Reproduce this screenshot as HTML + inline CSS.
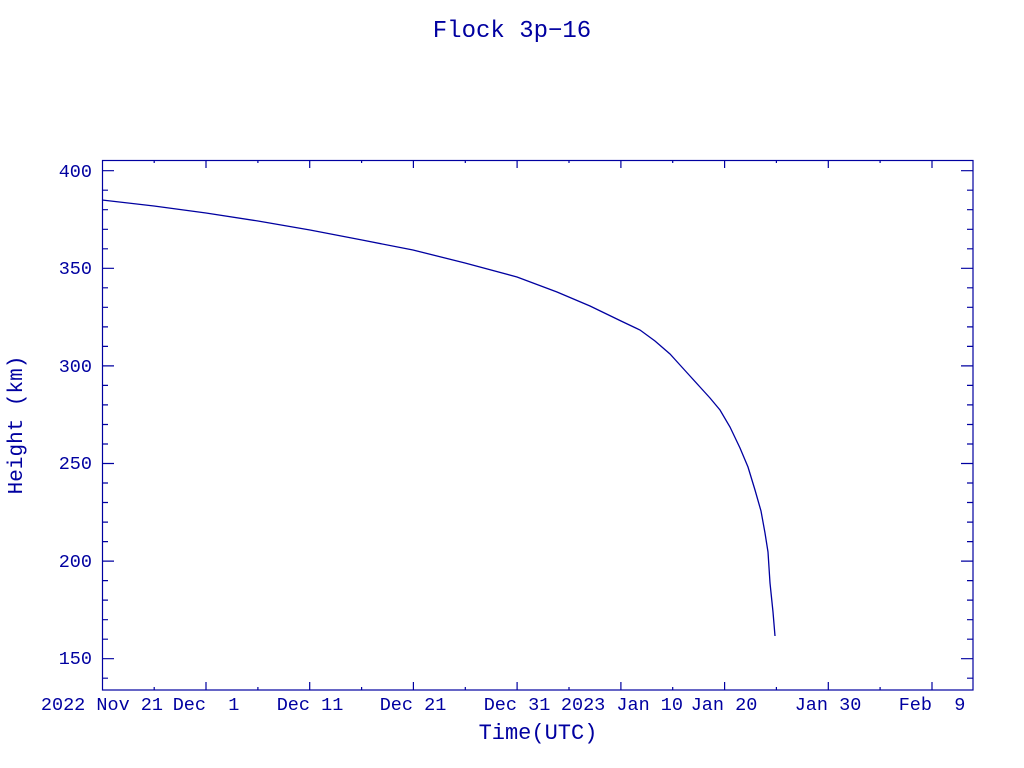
<!DOCTYPE html>
<html><head><meta charset="utf-8"><style>
html,body{margin:0;padding:0;background:#fff;}
svg{display:block;}
text{font-family:"Liberation Mono","DejaVu Sans Mono",monospace;fill:#0000a0;white-space:pre;}
</style></head><body>
<svg width="1024" height="768" viewBox="0 0 1024 768" xmlns="http://www.w3.org/2000/svg" xml:space="preserve">
<rect width="1024" height="768" fill="#fff"/>
<g stroke="#0000a0" stroke-width="1.2" fill="none">
<rect x="102.5" y="160.5" width="870.5" height="529.5"/>
<path d="
M102 170.7h12M102 190.2h6M102 209.7h6M102 229.3h6M102 248.8h6M102 268.3h12M102 287.8h6M102 307.3h6M102 326.9h6M102 346.4h6M102 365.9h12M102 385.4h6M102 404.9h6M102 424.5h6M102 444h6M102 463.5h12M102 483h6M102 502.5h6M102 522.1h6M102 541.6h6M102 561.1h12M102 580.6h6M102 600.1h6M102 619.7h6M102 639.2h6M102 658.7h12M102 678.2h6
M973 170.7h-12M973 190.2h-6M973 209.7h-6M973 229.3h-6M973 248.8h-6M973 268.3h-12M973 287.8h-6M973 307.3h-6M973 326.9h-6M973 346.4h-6M973 365.9h-12M973 385.4h-6M973 404.9h-6M973 424.5h-6M973 444h-6M973 463.5h-12M973 483h-6M973 502.5h-6M973 522.1h-6M973 541.6h-6M973 561.1h-12M973 580.6h-6M973 600.1h-6M973 619.7h-6M973 639.2h-6M973 658.7h-12M973 678.2h-6
M154.2 690v-3M206 690v-8M257.9 690v-3M309.7 690v-8M361.6 690v-3M413.4 690v-8M465.3 690v-3M517.1 690v-8M569 690v-3M620.9 690v-8M672.7 690v-3M724.6 690v-8M776.4 690v-3M828.3 690v-8M880.1 690v-3M932 690v-8
M154.2 160v3M206 160v8M257.9 160v3M309.7 160v8M361.6 160v3M413.4 160v8M465.3 160v3M517.1 160v8M569 160v3M620.9 160v8M672.7 160v3M724.6 160v8M776.4 160v3M828.3 160v8M880.1 160v3M932 160v8"/>
<path stroke-width="1.3" d="M102 200 L154 206 L206 213 L258 221 L310 230 L362 240 L413 250 L465 263 L517 277 L557 292 L590 306 L621 321 L640 330 L655 341 L670 354 L680 365 L690 376 L700 387 L710 398 L720 410 L730 427 L740 448 L748 467 L755 490 L761 511 L765 533 L768 552 L770 583 L773 612 L775 636"/>
</g>
<g font-size="18.5">
<g text-anchor="end">
<text x="92" y="177">400</text>
<text x="92" y="274">350</text>
<text x="92" y="372">300</text>
<text x="92" y="469">250</text>
<text x="92" y="567">200</text>
<text x="92" y="664">150</text>
</g>
<text x="163" y="710" text-anchor="end">2022 Nov 21</text>
<text x="206" y="710" text-anchor="middle">Dec  1</text>
<text x="310" y="710" text-anchor="middle">Dec 11</text>
<text x="413" y="710" text-anchor="middle">Dec 21</text>
<text x="517" y="710" text-anchor="middle">Dec 31</text>
<text x="683" y="710" text-anchor="end">2023 Jan 10</text>
<text x="724" y="710" text-anchor="middle">Jan 20</text>
<text x="828" y="710" text-anchor="middle">Jan 30</text>
<text x="932" y="710" text-anchor="middle">Feb  9</text>
</g>
<text x="538" y="739" font-size="22" text-anchor="middle">Time(UTC)</text>
<text transform="translate(22,425) rotate(-90)" font-size="21" text-anchor="middle">Height (km)</text>
<text x="512" y="37" font-size="24" text-anchor="middle">Flock 3p−16</text>
</svg>
</body></html>
